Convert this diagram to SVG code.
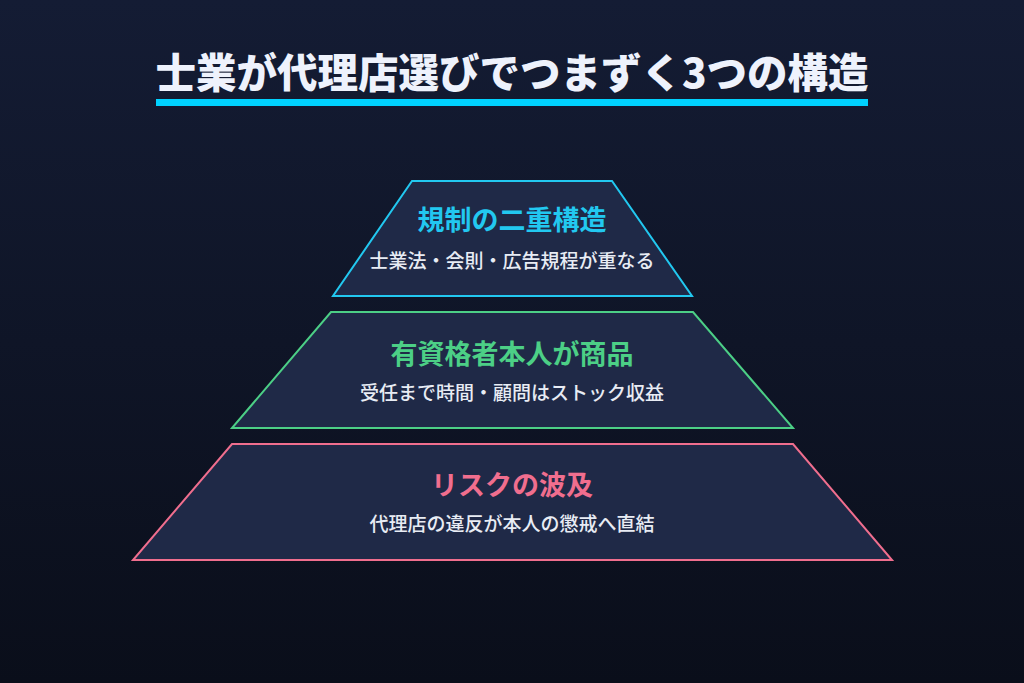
<svg xmlns="http://www.w3.org/2000/svg" width="1024" height="683" viewBox="0 0 1024 683">
<defs>
<linearGradient id="bg" x1="0" y1="0" x2="0" y2="1">
<stop offset="0" stop-color="#141c34"/>
<stop offset="1" stop-color="#0a0e1a"/>
</linearGradient>
</defs>
<style>
.t{font-family:"Noto Sans CJK JP","Noto Sans",sans-serif;text-anchor:middle;dominant-baseline:central}
.title{font-size:40.5px;font-weight:900;fill:#eef2fc}
.h{font-size:27px;font-weight:700}
.s{font-size:19px;font-weight:500;fill:#e8ecf4}
.layer{fill:#1f2947;stroke-width:2}
</style>
<rect width="1024" height="683" fill="url(#bg)"/>
<g id="title">
<text class="t title" x="512" y="70">士業が代理店選びでつまずく3つの構造</text>
<rect x="156" y="99" width="712" height="7" fill="#00d2ff"/>
</g>
<g id="layer1">
<polygon class="layer" points="412,181 612,181 692,296 333,296" stroke="#22c8f0"/>
<text class="t h" x="512" y="218" fill="#22c8f0">規制の二重構造</text>
<text class="t s" x="512" y="259">士業法・会則・広告規程が重なる</text>
</g>
<g id="layer2">
<polygon class="layer" points="331,312 693,312 793,428 232,428" stroke="#4ccf86"/>
<text class="t h" x="512" y="352" fill="#4ccf86">有資格者本人が商品</text>
<text class="t s" x="512" y="391">受任まで時間・顧問はストック収益</text>
</g>
<g id="layer3">
<polygon class="layer" points="232,444 793,444 892,560 133,560" stroke="#f06e8e"/>
<text class="t h" x="512" y="483" fill="#f06e8e">リスクの波及</text>
<text class="t s" x="512" y="522">代理店の違反が本人の懲戒へ直結</text>
</g>
<g id="connectors"/>
</svg>
